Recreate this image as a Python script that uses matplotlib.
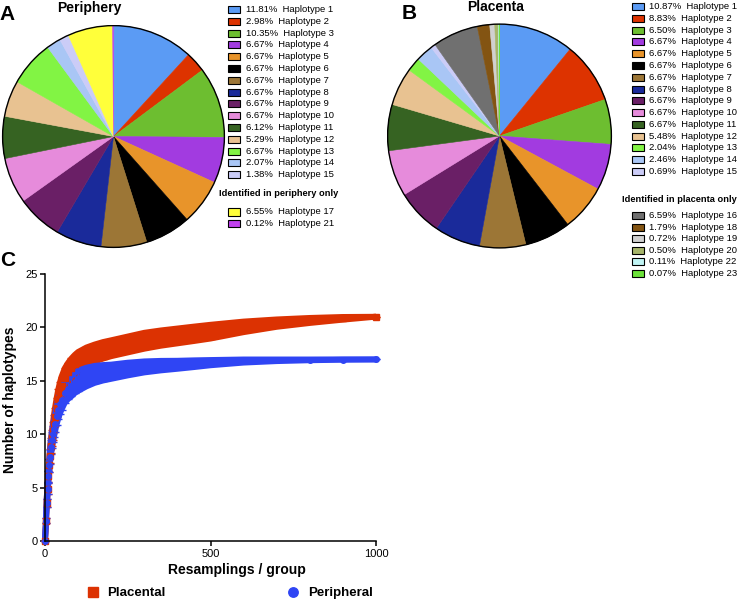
import matplotlib
matplotlib.use('Agg')
import matplotlib.pyplot as plt
from matplotlib.patches import Rectangle, Circle

plt.rcParams['font.family'] = ['Liberation Sans', 'DejaVu Sans']

# ---- data -------------------------------------------------------------
peri_labels = ['Haplotype 1', 'Haplotype 2', 'Haplotype 3', 'Haplotype 4', 'Haplotype 5',
               'Haplotype 6', 'Haplotype 7', 'Haplotype 8', 'Haplotype 9', 'Haplotype 10',
               'Haplotype 11', 'Haplotype 12', 'Haplotype 13', 'Haplotype 14', 'Haplotype 15',
               'Haplotype 17', 'Haplotype 21']
peri_pct = [11.81, 2.98, 10.35, 6.67, 6.67, 6.67, 6.67, 6.67, 6.67, 6.67,
            6.12, 5.29, 6.67, 2.07, 1.38, 6.55, 0.12]
peri_colors = ['#5B9BF4', '#DD3300', '#6DBE30', '#A23BE0', '#E8942A', '#000000', '#9C7636',
               '#1A2A9A', '#6A1F66', '#E68BDB', '#366322', '#E8C291', '#82F444', '#A9C6F5',
               '#CBCCF7', '#FFFF3A', '#C040EE']
peri_shared = 15  # first 15 are shared, the rest are periphery only

plac_labels = ['Haplotype 1', 'Haplotype 2', 'Haplotype 3', 'Haplotype 4', 'Haplotype 5',
               'Haplotype 6', 'Haplotype 7', 'Haplotype 8', 'Haplotype 9', 'Haplotype 10',
               'Haplotype 11', 'Haplotype 12', 'Haplotype 13', 'Haplotype 14', 'Haplotype 15',
               'Haplotype 16', 'Haplotype 18', 'Haplotype 19', 'Haplotype 20', 'Haplotype 22',
               'Haplotype 23']
plac_pct = [10.87, 8.83, 6.50, 6.67, 6.67, 6.67, 6.67, 6.67, 6.67, 6.67,
            6.67, 5.48, 2.04, 2.46, 0.69, 6.59, 1.79, 0.72, 0.50, 0.11, 0.07]
plac_colors = ['#5B9BF4', '#DD3300', '#6DBE30', '#A23BE0', '#E8942A', '#000000', '#9C7636',
               '#1A2A9A', '#6A1F66', '#E68BDB', '#366322', '#E8C291', '#82F444', '#A9C6F5',
               '#CBCCF7', '#707070', '#835412', '#D0D0D0', '#A6B46A', '#C0F4F4', '#6CE23A']
plac_shared = 15

# rarefaction curves (mean and error bar half-width)
resamplings = [0, 3, 5, 8, 10, 13, 15, 18, 21, 24, 27, 30, 35, 40, 45, 50, 60, 70, 80, 90,
               100, 125, 150, 175, 200, 250, 300, 350, 400, 450, 500, 600, 700, 800, 900, 1000]
placental_mean = [0, 1.9, 3.55, 4.9, 6.05, 7.1, 8.0, 8.9, 9.6, 10.3, 11.0, 11.6, 12.5, 13.3,
                  13.95, 14.5, 15.3, 15.8, 16.2, 16.55, 16.85, 17.3, 17.6, 17.85, 18.05, 18.4,
                  18.75, 19.0, 19.2, 19.4, 19.6, 20.05, 20.4, 20.65, 20.85, 21.0]
placental_err = [0, 0.25, 0.4, 0.5, 0.55, 0.6, 0.65, 0.7, 0.75, 0.8, 0.82, 0.85, 0.88, 0.9,
                 0.9, 0.9, 0.9, 0.9, 0.9, 0.88, 0.85, 0.82, 0.8, 0.78, 0.75, 0.75, 0.75, 0.72,
                 0.7, 0.68, 0.65, 0.5, 0.35, 0.24, 0.13, 0]
peripheral_mean = [0, 1.9, 3.55, 4.9, 6.05, 7.07, 7.9, 8.8, 9.45, 10.0, 10.5, 11.0, 11.7, 12.3,
                   12.8, 13.2, 13.9, 14.25, 14.5, 14.8, 15.0, 15.35, 15.6, 15.75, 15.85, 16.1,
                   16.3, 16.42, 16.5, 16.6, 16.7, 16.85, 16.92, 16.96, 16.99, 17.0]
peripheral_err = [0, 0.25, 0.4, 0.5, 0.55, 0.6, 0.65, 0.7, 0.72, 0.75, 0.78, 0.8, 0.82, 0.85,
                  0.88, 0.9, 0.95, 0.95, 0.95, 0.95, 0.95, 0.88, 0.8, 0.73, 0.67, 0.6, 0.52,
                  0.45, 0.38, 0.32, 0.25, 0.15, 0.08, 0.04, 0.02, 0]

RED = '#DC3202'
BLUE = '#2F45F4'

W, H = 737, 600
fig = plt.figure(figsize=(W / 100, H / 100), dpi=100)


def fx(x):
    return x / W


def fy(y):
    return 1 - y / H


def pie_panel(cx, cy, r, pct, colors):
    ax = fig.add_axes([fx(cx - r), fy(cy + r), 2 * r / W, 2 * r / H])
    wedges, _ = ax.pie(pct, colors=colors, startangle=90, counterclock=False)
    for w in wedges:
        w.set_edgecolor(w.get_facecolor())
        w.set_linewidth(0.4)
    ax.add_patch(Circle((0, 0), 1, fill=False, edgecolor='black', linewidth=1.0))
    ax.set_xlim(-1.01, 1.01)
    ax.set_ylim(-1.01, 1.01)
    ax.set_aspect('equal')
    ax.axis('off')
    return ax


def key_rows(xbox, xtext, y0, step, pct, labels, colors):
    for i, (p, lab, c) in enumerate(zip(pct, labels, colors)):
        y = y0 + i * step
        fig.add_artist(Rectangle((fx(xbox), fy(y + 3.5)), 12 / W, 7 / H, facecolor=c,
                                 edgecolor='black', linewidth=0.8, transform=fig.transFigure))
        fig.text(fx(xtext), fy(y), f'{p:.2f}%  {lab}', fontsize=6.8, va='center', ha='left')


# ---- panel A ----------------------------------------------------------
pie_panel(113.5, 136.5, 112, peri_pct, peri_colors)
fig.text(fx(89), fy(8), 'Periphery', fontsize=10, fontweight='bold', ha='center', va='center')
fig.text(fx(7.5), fy(14.5), 'A', fontsize=15, fontweight='bold', ha='center', va='center')
key_rows(228, 246, 9.5, 11.8, peri_pct[:peri_shared], peri_labels[:peri_shared],
         peri_colors[:peri_shared])
fig.text(fx(219), fy(194), 'Identified in periphery only', fontsize=6.7, fontweight='bold',
         va='center', ha='left')
key_rows(228, 246, 212, 11.5, peri_pct[peri_shared:], peri_labels[peri_shared:],
         peri_colors[peri_shared:])

# ---- panel B ----------------------------------------------------------
pie_panel(499.5, 136, 113, plac_pct, plac_colors)
fig.text(fx(496), fy(7), 'Placenta', fontsize=10, fontweight='bold', ha='center', va='center')
fig.text(fx(409.5), fy(13.5), 'B', fontsize=15, fontweight='bold', ha='center', va='center')
key_rows(632, 649, 6.7, 11.76, plac_pct[:plac_shared], plac_labels[:plac_shared],
         plac_colors[:plac_shared])
fig.text(fx(622), fy(200), 'Identified in placenta only', fontsize=6.7, fontweight='bold',
         va='center', ha='left')
key_rows(632, 649, 215.7, 11.5, plac_pct[plac_shared:], plac_labels[plac_shared:],
         plac_colors[plac_shared:])

# ---- panel C ----------------------------------------------------------
ax = fig.add_axes([fx(45), fy(541), 331 / W, 267 / H])


def curve(mean, err, color, marker, label):
    lo = [m - e for m, e in zip(mean, err)]
    hi = [m + e for m, e in zip(mean, err)]
    ax.fill_between(resamplings, lo, hi, color=color, linewidth=0, clip_on=False)
    ax.plot(resamplings, lo, color=color, lw=4.2, solid_capstyle='butt', clip_on=False)
    ax.plot(resamplings, hi, color=color, lw=4.2, solid_capstyle='butt', clip_on=False)
    h = ax.errorbar(resamplings, mean, yerr=err, fmt=marker, color=color, ms=4.0,
                    capsize=3, elinewidth=1, capthick=1, clip_on=False, label=label)
    return h


h_plac = curve(placental_mean, placental_err, RED, 's', 'Placental')
h_peri = curve(peripheral_mean, peripheral_err, BLUE, 'o', 'Peripheral')

ax.set_xlim(0, 1000)
ax.set_ylim(0, 25)
ax.set_xticks([0, 500, 1000])
ax.set_yticks([0, 5, 10, 15, 20, 25])
ax.spines['top'].set_visible(False)
ax.spines['right'].set_visible(False)
for s in ('left', 'bottom'):
    ax.spines[s].set_linewidth(1.1)
ax.tick_params(direction='out', length=3.5, width=1.1, labelsize=8, pad=2)

fig.text(fx(10), fy(400), 'Number of haplotypes', rotation=90, fontsize=10,
         fontweight='bold', ha='center', va='center')
fig.text(fx(237), fy(570), 'Resamplings / group', fontsize=10, fontweight='bold',
         ha='center', va='center')
fig.text(fx(7.5), fy(260.5), 'C', fontsize=15, fontweight='bold', ha='center', va='center')

fig.legend([h_plac[0], h_peri[0]], ['Placental', 'Peripheral'], ncol=2, frameon=False,
           loc='center left', bbox_to_anchor=(fx(86), fy(593)), borderpad=0, borderaxespad=0,
           handlelength=1.0, handletextpad=0.6, columnspacing=9.2, markerscale=1.7,
           prop={'weight': 'bold', 'size': 9.5})

fig.savefig('out.png', dpi=100)
